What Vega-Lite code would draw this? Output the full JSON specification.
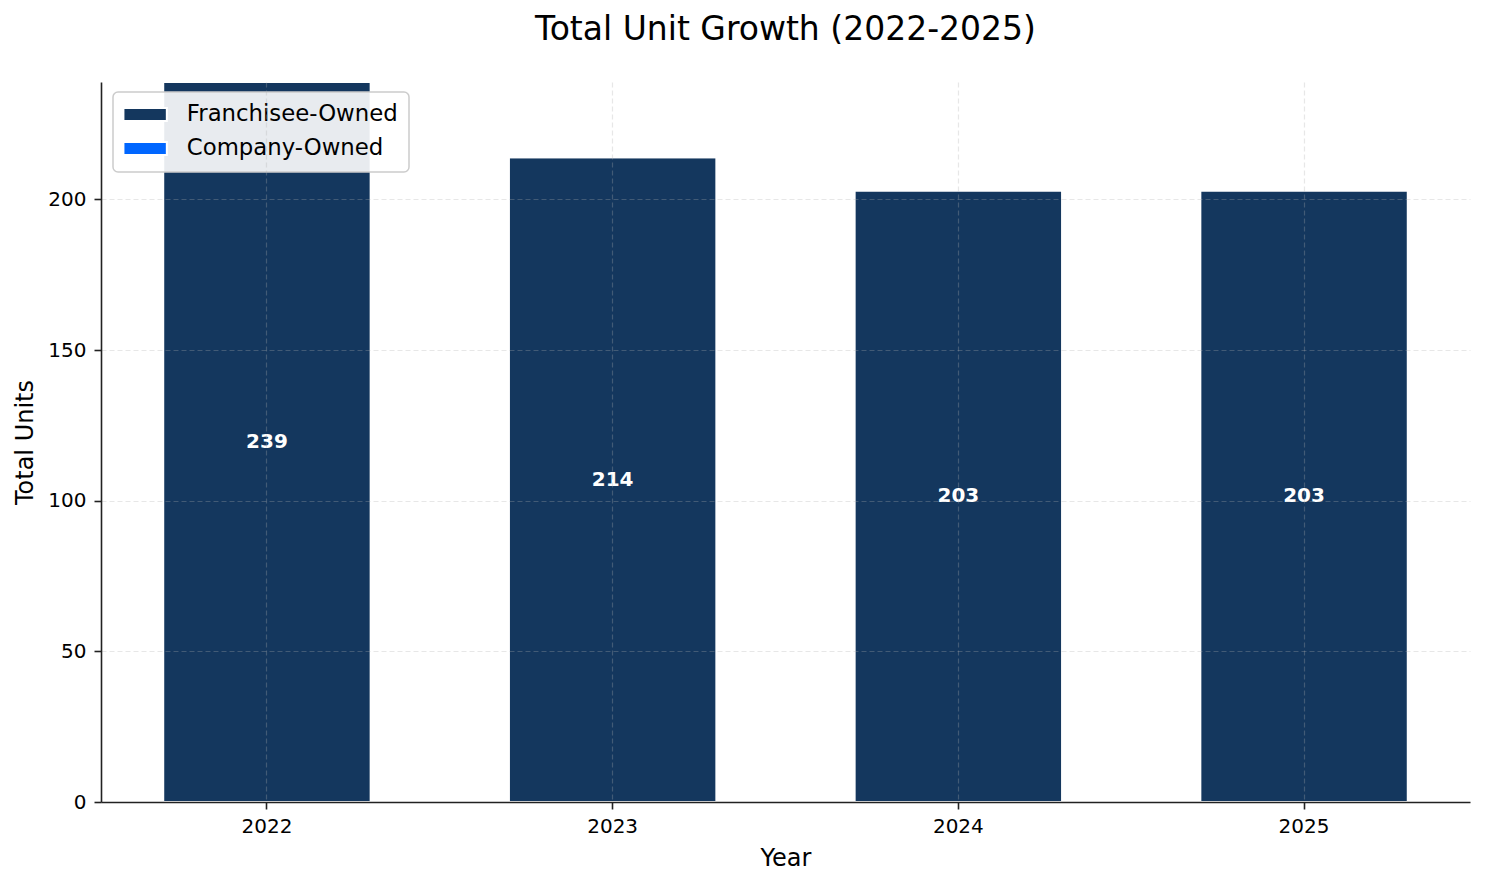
{
  "$schema": "https://vega.github.io/schema/vega-lite/v6.json",
  "width": 1369,
  "height": 720,
  "autosize": {"type": "none"},
  "padding": {"left": 101, "top": 82, "right": 15, "bottom": 82},
  "background": "white",
  "title": {
    "text": "Total Unit Growth (2022-2025)",
    "fontSize": 33,
    "font": "DejaVu Sans",
    "fontWeight": "normal",
    "color": "black",
    "baseline": "alphabetic",
    "offset": 8,
    "anchor": "middle"
  },
  "data": {
    "values": [
      {"year": "2022", "ownership": "Franchisee-Owned", "units": 239},
      {"year": "2022", "ownership": "Company-Owned", "units": 0},
      {"year": "2023", "ownership": "Franchisee-Owned", "units": 214},
      {"year": "2023", "ownership": "Company-Owned", "units": 0},
      {"year": "2024", "ownership": "Franchisee-Owned", "units": 203},
      {"year": "2024", "ownership": "Company-Owned", "units": 0},
      {"year": "2025", "ownership": "Franchisee-Owned", "units": 203},
      {"year": "2025", "ownership": "Company-Owned", "units": 0}
    ]
  },
  "config": {
    "font": "DejaVu Sans",
    "view": {"stroke": null},
    "legend": {"strokeWidth": 1.5},
    "axis": {
      "domainColor": "#222222",
      "domainWidth": 1.6,
      "tickColor": "#222222",
      "tickWidth": 1.6,
      "tickSize": 7,
      "labelFontSize": 20,
      "labelColor": "black",
      "titleFontSize": 24,
      "titleFontWeight": "normal",
      "titleColor": "black",
      "gridColor": "#b0b0b0",
      "gridOpacity": 0.3,
      "gridDash": [5, 3],
      "gridWidth": 1.2
    }
  },
  "layer": [
    {
      "mark": {"type": "bar", "stroke": "white", "strokeWidth": 2},
      "encoding": {
        "x": {
          "field": "year",
          "type": "ordinal",
          "scale": {"paddingInner": 0.4, "paddingOuter": 0.18},
          "axis": {
            "title": "Year",
            "labelAngle": 0,
            "grid": true,
            "bandPosition": 0.5,
            "zindex": 1,
            "labelPadding": 7,
            "titlePadding": 10
          }
        },
        "y": {
          "field": "units",
          "type": "quantitative",
          "stack": "zero",
          "scale": {"domain": [0, 239], "nice": false},
          "axis": {
            "title": "Total Units",
            "values": [0, 50, 100, 150, 200],
            "grid": true,
            "zindex": 1,
            "labelPadding": 8,
            "titlePadding": 10
          }
        },
        "color": {
          "field": "ownership",
          "type": "nominal",
          "scale": {
            "domain": ["Franchisee-Owned", "Company-Owned"],
            "range": ["#14375E", "#0066FF"]
          },
          "legend": {
            "title": null,
            "orient": "none",
            "legendX": 12,
            "legendY": 10,
            "padding": 11,
            "fillColor": "rgba(255,255,255,0.9)",
            "strokeColor": "#cccccc",
            "cornerRadius": 5,
            "symbolType": "M-1.71,-0.93L4.49,-0.93L4.49,0.93L-1.71,0.93Z",
            "symbolSize": 196,
            "symbolStrokeColor": "white",
            "symbolStrokeWidth": 2,
            "symbolOpacity": 1,
            "labelFontSize": 22.8,
            "labelColor": "black",
            "labelLimit": 500,
            "labelOffset": 40,
            "rowPadding": 10
          }
        },
        "order": {"field": "ownership", "sort": "descending"}
      }
    },
    {
      "mark": {
        "type": "text",
        "color": "white",
        "fontWeight": "bold",
        "fontSize": 20,
        "baseline": "middle",
        "align": "center"
      },
      "encoding": {
        "x": {"field": "year", "type": "ordinal"},
        "y": {
          "aggregate": "sum",
          "field": "units",
          "type": "quantitative",
          "scale": {"domain": [0, 478], "nice": false},
          "axis": null
        },
        "text": {"aggregate": "sum", "field": "units", "type": "quantitative"}
      }
    }
  ],
  "resolve": {"scale": {"y": "independent"}}
}
